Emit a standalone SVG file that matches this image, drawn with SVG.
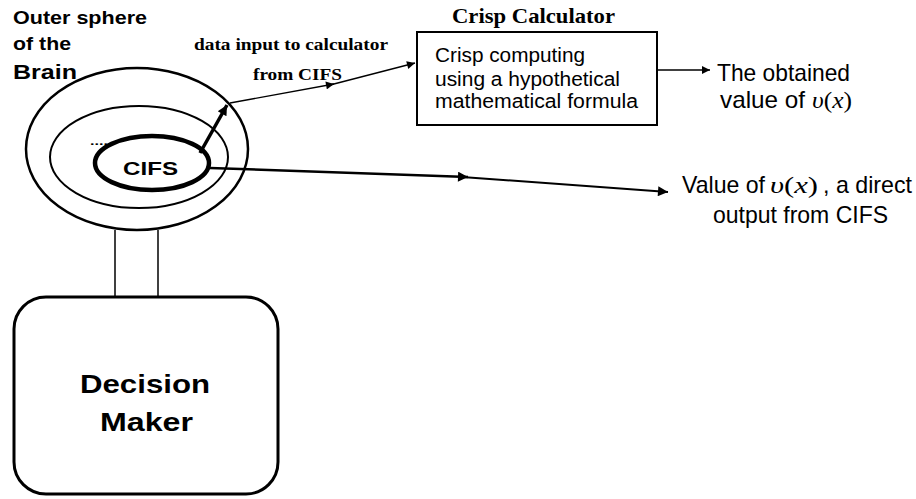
<svg xmlns="http://www.w3.org/2000/svg" width="916" height="499" viewBox="0 0 916 499">
<defs>
<style>
.sans{font-family:"Liberation Sans",Arial,sans-serif;fill:#000}
.serif{font-family:"Liberation Serif","Times New Roman",serif;fill:#000}
.b{font-weight:bold}
.i{font-style:italic}
.ln{fill:none;stroke:#000}
</style>
<marker id="ah" viewBox="0 0 10 10" refX="10" refY="5" markerWidth="10" markerHeight="8" markerUnits="userSpaceOnUse" orient="auto"><path d="M0,0 L10,5 L0,10 z" fill="#000"/></marker>
<marker id="ahb" viewBox="0 0 10 10" refX="10" refY="5" markerWidth="13" markerHeight="10" markerUnits="userSpaceOnUse" orient="auto"><path d="M0,0 L10,5 L0,10 z" fill="#000"/></marker>
</defs>
<rect width="916" height="499" fill="#fff"/>
<g id="brain">
<ellipse cx="137" cy="149" rx="111" ry="81" class="ln" stroke-width="2.5"/>
<ellipse cx="139" cy="157" rx="89" ry="51" class="ln" stroke-width="2"/>
<text x="13" y="24" class="sans b" font-size="19" textLength="134" lengthAdjust="spacingAndGlyphs">Outer sphere</text>
<text x="13" y="50" class="sans b" font-size="19" textLength="58" lengthAdjust="spacingAndGlyphs">of the</text>
<text x="13" y="79" class="sans b" font-size="20" textLength="64" lengthAdjust="spacingAndGlyphs">Brain</text>
<text x="90" y="145" class="sans b" font-size="11" textLength="18" lengthAdjust="spacingAndGlyphs">....</text>
</g>
<g id="cifs">
<ellipse cx="152" cy="163" rx="57" ry="27" class="ln" stroke-width="4.5"/>
<text x="123" y="175" class="sans b" font-size="19" textLength="55" lengthAdjust="spacingAndGlyphs">CIFS</text>
</g>
<g id="stem">
<line x1="115" y1="230" x2="115" y2="298" class="ln" stroke-width="1.5"/>
<line x1="158" y1="230" x2="158" y2="298" class="ln" stroke-width="1.5"/>
</g>
<g id="decision-maker">
<rect x="14" y="297" width="264" height="197" rx="32" ry="32" class="ln" stroke-width="3"/>
<text x="80" y="393" class="sans b" font-size="25" textLength="130" lengthAdjust="spacingAndGlyphs">Decision</text>
<text x="100" y="431" class="sans b" font-size="25" textLength="93" lengthAdjust="spacingAndGlyphs">Maker</text>
</g>
<g id="crisp-calculator">
<text x="452" y="23" class="serif b" font-size="21" textLength="163" lengthAdjust="spacingAndGlyphs">Crisp Calculator</text>
<rect x="417" y="32" width="240" height="93" class="ln" stroke-width="2"/>
<text x="435" y="62" class="sans" font-size="20" textLength="150" lengthAdjust="spacingAndGlyphs">Crisp computing</text>
<text x="435" y="86" class="sans" font-size="20" textLength="185" lengthAdjust="spacingAndGlyphs">using a hypothetical</text>
<text x="435" y="108" class="sans" font-size="20" textLength="203" lengthAdjust="spacingAndGlyphs">mathematical formula</text>
</g>
<g id="obtained-value">
<text x="717" y="81" class="sans" font-size="24" textLength="133" lengthAdjust="spacingAndGlyphs">The obtained</text>
<text x="720" y="108" class="sans" font-size="24" textLength="85" lengthAdjust="spacingAndGlyphs">value of</text>
<text x="812" y="108" class="serif" font-size="24" textLength="40" lengthAdjust="spacingAndGlyphs"><tspan class="i">υ</tspan>(<tspan class="i">x</tspan>)</text>
</g>
<g id="direct-value">
<text x="682" y="193" class="sans" font-size="24" textLength="83" lengthAdjust="spacingAndGlyphs">Value of</text>
<text x="770" y="193" class="serif" font-size="24" textLength="48" lengthAdjust="spacingAndGlyphs"><tspan class="i">υ</tspan>(<tspan class="i">x</tspan>)</text>
<text x="823" y="193" class="sans" font-size="24" textLength="89" lengthAdjust="spacingAndGlyphs">, a direct</text>
<text x="713" y="223" class="sans" font-size="24" textLength="175" lengthAdjust="spacingAndGlyphs">output from CIFS</text>
</g>
<g id="connector-labels">
<text x="194" y="50" class="serif b" font-size="16" textLength="194" lengthAdjust="spacingAndGlyphs">data input to calculator</text>
<text x="253" y="80" class="serif b" font-size="16" textLength="89" lengthAdjust="spacingAndGlyphs">from CIFS</text>
</g>
<g id="connectors">
<line x1="200" y1="153" x2="227" y2="105" class="ln" stroke-width="3.5" marker-end="url(#ahb)"/>
<line x1="230" y1="103" x2="334" y2="84" class="ln" stroke-width="1.3" marker-end="url(#ah)"/>
<line x1="330" y1="85" x2="415" y2="63" class="ln" stroke-width="1.3" marker-end="url(#ah)"/>
<line x1="210" y1="168" x2="468" y2="177" class="ln" stroke-width="2.5" marker-end="url(#ahb)"/>
<line x1="462" y1="177" x2="668" y2="192" class="ln" stroke-width="2" marker-end="url(#ahb)"/>
<line x1="657" y1="70" x2="710" y2="70" class="ln" stroke-width="1.5" marker-end="url(#ah)"/>
</g>
</svg>
